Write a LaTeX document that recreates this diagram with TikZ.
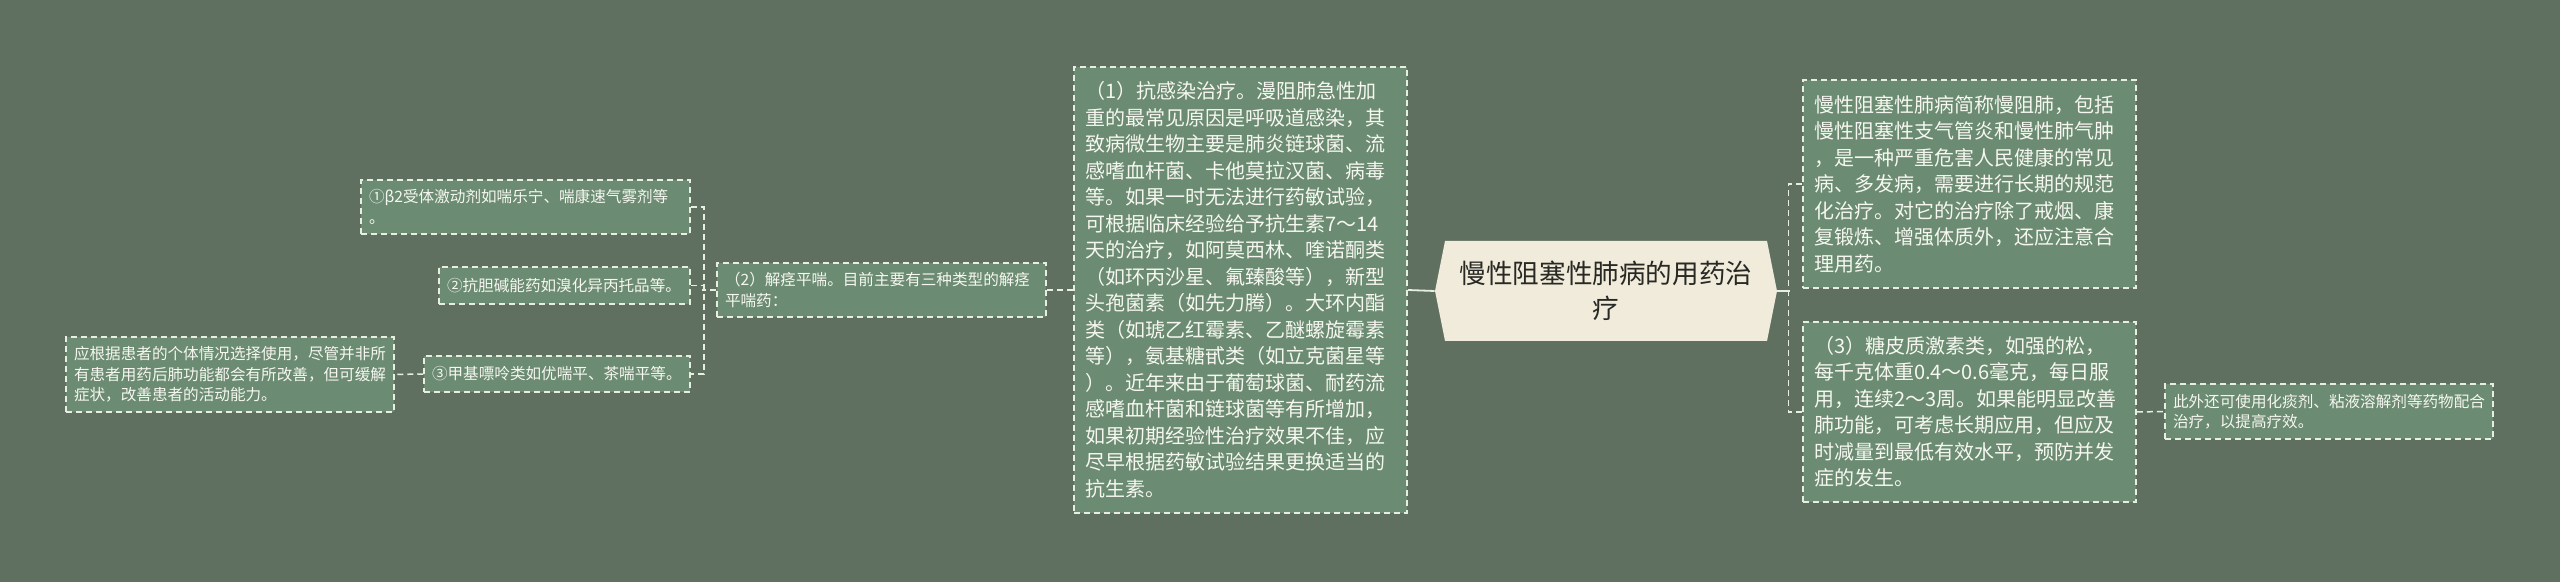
\documentclass[tikz,border=0pt]{standalone}
\usepackage{fontspec}
\usepackage{tikz}
\newfontfamily\cjk{Noto Sans CJK SC}
\definecolor{bgc}{RGB}{95,112,97}
\definecolor{boxc}{RGB}{107,139,114}
\definecolor{linec}{RGB}{232,238,226}
\definecolor{txtc}{RGB}{246,247,240}
\definecolor{rootc}{RGB}{240,235,218}
\definecolor{roott}{RGB}{40,40,36}
\tikzset{
  box/.style={draw=linec, dash pattern=on 3pt off 2pt, line width=0.75pt, fill=boxc, text=txtc, align=left, inner ysep=0pt},
  bigbox/.style={box, font=\cjk\fontsize{10}{13.25}\selectfont, inner xsep=5.5pt},
  smallbox/.style={box, font=\cjk\fontsize{7.8}{10.25}\selectfont, inner xsep=4pt},
  link/.style={draw=linec, line width=0.9pt},
  dlink/.style={link, dash pattern=on 3pt off 2pt, line width=0.75pt},
}

\begin{document}
\begin{tikzpicture}[x=0.5pt, y=-0.5pt]
  \fill[bgc] (0,0) rectangle (2560,582);
  \useasboundingbox (0,0) rectangle (2560,582);

  \fill[rootc] (1435,291) -- (1445,241) -- (1767,241) -- (1777,291) -- (1767,341) -- (1445,341) -- cycle;
  \node[font=\cjk\fontsize{13.3}{17.5}\selectfont, text=roott, align=center, minimum width=161pt, minimum height=50pt, inner sep=0pt] (root) at (1606,291) {慢性阻塞性肺病的用药治\\疗};

  \node[bigbox, text width=155.5pt, minimum height=223pt] (anti) at (1240.5,290) {（1）抗感染治疗。漫阻肺急性加\\重的最常见原因是呼吸道感染，其\\致病微生物主要是肺炎链球菌、流\\感嗜血杆菌、卡他莫拉汉菌、病毒\\等。如果一时无法进行药敏试验，\\可根据临床经验给予抗生素7～14\\天的治疗，如阿莫西林、喹诺酮类\\（如环丙沙星、氟臻酸等），新型\\头孢菌素（如先力腾）。大环内酯\\类（如琥乙红霉素、乙醚螺旋霉素\\等），氨基糖甙类（如立克菌星等\\）。近年来由于葡萄球菌、耐药流\\感嗜血杆菌和链球菌等有所增加，\\如果初期经验性治疗效果不佳，应\\尽早根据药敏试验结果更换适当的\\抗生素。};
  \node[bigbox, text width=155.5pt, minimum height=104pt] (intro) at (1969.5,184) {慢性阻塞性肺病简称慢阻肺，包括\\慢性阻塞性支气管炎和慢性肺气肿\\，是一种严重危害人民健康的常见\\病、多发病，需要进行长期的规范\\化治疗。对它的治疗除了戒烟、康\\复锻炼、增强体质外，还应注意合\\理用药。};
  \node[bigbox, text width=155.5pt, minimum height=90pt] (cort) at (1969.5,412) {（3）糖皮质激素类，如强的松，\\每千克体重0.4～0.6毫克，每日服\\用，连续2～3周。如果能明显改善\\肺功能，可考虑长期应用，但应及\\时减量到最低有效水平，预防并发\\症的发生。};
  \node[smallbox, text width=156pt, minimum height=27.5pt] (extra) at (2329,411.5) {此外还可使用化痰剂、粘液溶解剂等药物配合\\治疗，以提高疗效。};

  \node[smallbox, text width=156.5pt, minimum height=27pt] (spasm) at (881.5,290) {（2）解痉平喘。目前主要有三种类型的解痉\\平喘药：};
  \node[smallbox, text width=156.5pt, minimum height=27pt] (b1) at (525.5,207) {①β2受体激动剂如喘乐宁、喘康速气雾剂等\\。};
  \node[smallbox, text width=117.5pt, minimum height=18.5pt] (b2) at (564.5,285.5) {②抗胆碱能药如溴化异丙托品等。};
  \node[smallbox, text width=125pt, minimum height=18pt] (b3) at (557,374) {③甲基嘌呤类如优喘平、茶喘平等。};
  \node[smallbox, text width=156pt, minimum height=37.5pt] (note) at (230,374.5) {应根据患者的个体情况选择使用，尽管并非所\\有患者用药后肺功能都会有所改善，但可缓解\\症状，改善患者的活动能力。};

  \draw[link] ([xshift=-5pt]root.west) -- (anti.east);
  \draw[link] ([xshift=5pt]root.east) -- ++(13,0) coordinate (rbus);
  \draw[dlink] (intro.west) -- ++(-14,0) |- (cort.west);
  \draw[dlink] (cort.east) -- (extra.west);
  \draw[dlink] (anti.west) -- (spasm.east);
  \draw[dlink] (spasm.west) -- ++(-14,0);
  \draw[dlink] (b1.east) -- ++(13,0) |- (b3.east);
  \draw[dlink] (b2.east) -- ++(13,0);
  \draw[dlink] (b3.west) -- (note.east);
\end{tikzpicture}
\end{document}
